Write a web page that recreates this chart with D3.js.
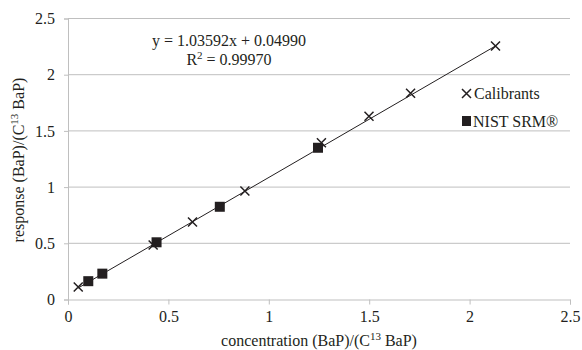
<!DOCTYPE html>
<html><head><meta charset="utf-8">
<script src="https://cdn.jsdelivr.net/npm/d3@7"></script>
<style>body{margin:0;background:#fff}</style>
</head><body>
<script>
const calibX = [0.051, 0.424, 0.620, 0.881, 1.262, 1.499, 1.706, 2.129];
const calibY = [0.112, 0.485, 0.690, 0.965, 1.395, 1.630, 1.835, 2.255];
const nistX = [0.101, 0.171, 0.441, 0.756, 1.245];
const nistY = [0.163, 0.230, 0.509, 0.825, 1.350];
const slope = 1.03592, intercept = 0.04990, r2 = "0.99970";
const xTicks = [0, 0.5, 1, 1.5, 2, 2.5];
const yTicks = [0, 0.5, 1, 1.5, 2, 2.5];

const FONT = "'Liberation Serif', Tinos, 'Times New Roman', Times, 'DejaVu Serif', serif";
const INK = "#231f20";
const W = 582, H = 350;
const svg = d3.select("body").append("svg").attr("width", W).attr("height", H)
  .style("font-family", FONT);
const x = d3.scaleLinear().domain([0, 2.5]).range([68, 570]);
const y = d3.scaleLinear().domain([0, 2.5]).range([299.5, 18.5]);
const grid = "#bfbfbf";

function styleText(sel) { sel.style("font-family", FONT).style("font-size", "16px").style("fill", INK); }

const ya = svg.append("g").attr("transform", `translate(${x(0)},0)`)
  .call(d3.axisLeft(y).tickValues(yTicks).tickFormat(d3.format("")).tickSize(4).tickPadding(9));
ya.attr("font-family", null);
ya.select(".domain").attr("stroke", grid);
ya.selectAll(".tick line").attr("stroke", grid);
ya.selectAll(".tick text").call(styleText);
svg.append("g").selectAll("line").data(yTicks.filter(d => d > 0)).join("line")
  .attr("x1", x(0)).attr("x2", x(2.5)).attr("y1", d => y(d)).attr("y2", d => y(d))
  .attr("stroke", grid).attr("stroke-width", 1);

const xa = svg.append("g").attr("transform", `translate(0,${y(0)})`)
  .call(d3.axisBottom(x).tickValues(xTicks).tickFormat(d3.format("")).tickSize(5).tickPadding(6));
xa.attr("font-family", null);
xa.select(".domain").attr("stroke", grid);
xa.selectAll(".tick line").attr("stroke", grid);
xa.selectAll(".tick text").call(styleText);

const allX = calibX.concat(nistX);
const x0 = d3.min(allX), x1 = d3.max(allX);
svg.append("line").attr("x1", x(x0)).attr("y1", y(slope * x0 + intercept))
  .attr("x2", x(x1)).attr("y2", y(slope * x1 + intercept))
  .attr("stroke", INK).attr("stroke-width", 1);

const s = 10;
svg.append("g").selectAll("rect").data(nistX.map((d, i) => [d, nistY[i]])).join("rect")
  .attr("x", d => x(d[0]) - s / 2).attr("y", d => y(d[1]) - s / 2)
  .attr("width", s).attr("height", s).attr("fill", INK);

const c = 4.5;
const cross = svg.append("g").attr("stroke", INK).attr("stroke-width", 1.5);
calibX.forEach((d, i) => {
  const px = x(d), py = y(calibY[i]);
  cross.append("path").attr("d", `M${px - c},${py - c}L${px + c},${py + c}M${px - c},${py + c}L${px + c},${py - c}`);
});

const lg = svg.append("g");
lg.append("path").attr("d", "M462,89L471,98M462,98L471,89").attr("stroke", INK).attr("stroke-width", 1.5);
lg.append("text").attr("x", 474).attr("y", 99).call(styleText).text("Calibrants");
lg.append("rect").attr("x", 462).attr("y", 116).attr("width", 9).attr("height", 10).attr("fill", INK);
lg.append("text").attr("x", 473).attr("y", 127).call(styleText).text("NIST SRM®");

svg.append("text").attr("x", 229).attr("y", 46).attr("text-anchor", "middle").call(styleText)
  .text(`y = ${slope.toFixed(5)}x + ${intercept.toFixed(5)}`);
const rt = svg.append("text").attr("x", 229).attr("y", 65).attr("text-anchor", "middle").call(styleText);
rt.append("tspan").text("R");
rt.append("tspan").attr("dy", -6).style("font-size", "11px").text("2");
rt.append("tspan").attr("dy", 6).text(" = " + r2);

const xt = svg.append("text").attr("x", 319).attr("y", 346).attr("text-anchor", "middle").call(styleText);
xt.append("tspan").text("concentration (BaP)/(C");
xt.append("tspan").attr("dy", -6).style("font-size", "11px").text("13");
xt.append("tspan").attr("dy", 6).text(" BaP)");

const yt = svg.append("text").attr("transform", "translate(24,160) rotate(-90)").attr("text-anchor", "middle").call(styleText);
yt.append("tspan").text("response (BaP)/(C");
yt.append("tspan").attr("dy", -6).style("font-size", "11px").text("13");
yt.append("tspan").attr("dy", 6).text(" BaP)");
</script>
</body></html>
